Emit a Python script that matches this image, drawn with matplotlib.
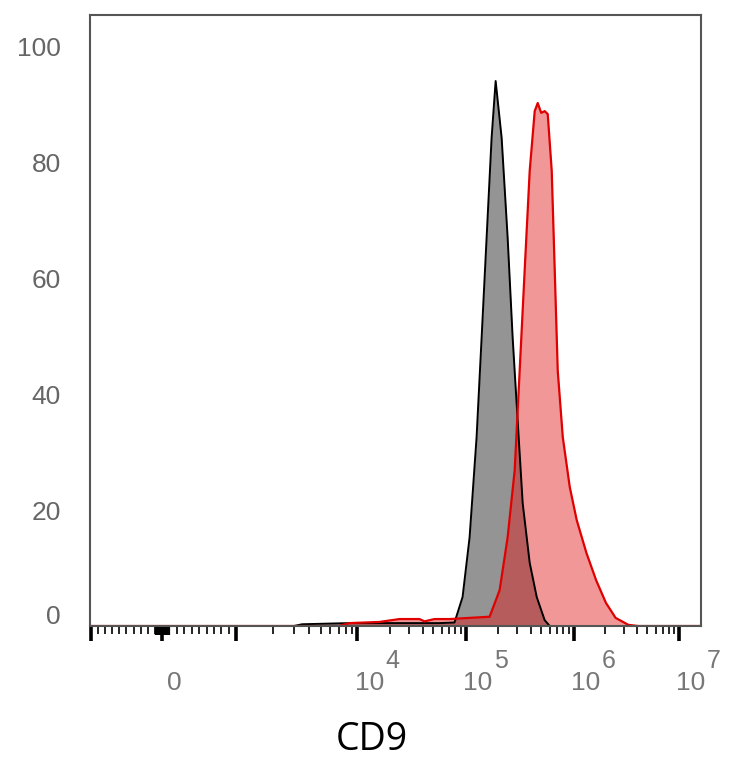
import numpy as np
import matplotlib
matplotlib.use("Agg")
import matplotlib.pyplot as plt
from matplotlib.transforms import offset_copy, ScaledTranslation

# isotype control (grey) - CD9 intensity vs % of max
ctrl_x = [-1030, 3000, 3500, 8600, 24500, 57400, 79000, 93800, 108900, 126400,
          140700, 156500, 174000, 189600, 215400, 244700, 272300, 302900,
          337100, 391500, 454500, 538500, 599400, 741700, 1.62e7]
ctrl_y = [0, 0, 0.3, 0.5, 0.5, 0.5, 0.6, 5.0, 15.3, 32.6, 49.8, 67.1, 84.3,
          94.1, 84.3, 67.1, 49.8, 35.5, 21.2, 10.9, 5.0, 1.0, 0, 0, 0]

# CD9 stained (red)
cd9_x = [-1030, 7000, 8600, 16000, 24500, 37500, 41700, 51600, 71100, 108900,
         166800, 206500, 244700, 284400, 316200, 351700, 391500, 435400,
         464200, 500000, 538500, 574500, 625400, 666800, 710800, 791500,
         918100, 1.066e6, 1.32e6, 1.632e6, 2.021e6, 2.5e6, 3.3e6, 4.1e6, 1.62e7]
cd9_y = [0, 0, 0.5, 0.7, 1.2, 1.2, 0.8, 1.2, 1.2, 1.4, 1.6, 6.2, 15.3, 26.9,
         44.1, 61.4, 78.6, 88.9, 90.3, 88.6, 88.9, 88.4, 78.6, 61.4, 44.1,
         32.6, 24.0, 18.3, 12.6, 7.9, 4.0, 1.4, 0.2, 0, 0]

y_ticks = [0, 20, 40, 60, 80, 100]
x_major = [-1000, 0, 1000, 1e4, 1e5, 1e6, 1e7]
x_labels = {0: ("0", ""), 1e4: ("10", "4"), 1e5: ("10", "5"), 1e6: ("10", "6"), 1e7: ("10", "7")}

# logicle-like display: linear in [-1000, 1000], log above
u_knots = [-3, -2, -1, 0, 1, 2, 3, 4, 5, 6, 7]
d_knots = [-213, -142, -71, 0, 74, 195, 303, 411, 516, 621, 726]


def to_u(x):
    x = np.asarray(x, dtype=float)
    ax_ = np.abs(x)
    big = np.sign(x) * (1 + np.log10(np.maximum(ax_, 1e-12) / 1000.0))
    return np.where(ax_ <= 1000, x / 1000.0, big)


def from_u(u):
    u = np.asarray(u, dtype=float)
    au = np.abs(u)
    big = np.sign(u) * 1000.0 * 10 ** (au - 1)
    return np.where(au <= 1, u * 1000.0, big)


def forward(x):
    return np.interp(to_u(x), u_knots, d_knots)


def inverse(d):
    return from_u(np.interp(d, d_knots, u_knots))


plt.rcParams['font.family'] = ['Liberation Sans', 'DejaVu Sans']

fig = plt.figure(figsize=(7.34, 7.68), dpi=100)
ax = fig.add_axes([90 / 734, 1 - 626 / 768, 611 / 734, 611 / 768])
ax.set_xscale('function', functions=(forward, inverse))

ax.fill_between(ctrl_x, ctrl_y, color='black', alpha=0.42, lw=0)
ax.plot(ctrl_x, ctrl_y, color='black', lw=1.4)
ax.fill_between(cd9_x, cd9_y, color='#e01818', alpha=0.45, lw=0)
ax.plot(cd9_x, cd9_y, color='#e00000', lw=1.6)

ax.set_xlim(-1030, 1.62e7)
ax.set_ylim(0.3, 105.5)

# x ticks
minor = []
for k in range(1, 10):
    minor += [k * 100, -k * 100]
for p in range(3, 7):
    minor += [m * 10 ** p for m in range(2, 10)]
ax.set_xticks(x_major)
ax.set_xticklabels([])
ax.set_xticks(minor, minor=True)
ax.tick_params(axis='x', which='major', direction='out', length=11, width=2.6, color='black')
ax.tick_params(axis='x', which='minor', direction='out', length=6, width=1.2, color='black')

# dense ticks around zero
near_zero = [k * 10 for k in range(-9, 10) if k != 0]
ax.vlines(near_zero, 0, -0.014, transform=ax.get_xaxis_transform(), clip_on=False,
          color='black', lw=1.6)

for v, (base, ex) in x_labels.items():
    tr = offset_copy(ax.get_xaxis_transform(), fig=fig, x=12, y=-57, units='dots')
    ax.text(v, 0, base, transform=tr, ha='center', va='center', fontsize=19, color='#777777')
    if ex:
        tr2 = offset_copy(ax.get_xaxis_transform(), fig=fig, x=28, y=-35, units='dots')
        ax.text(v, 0, ex, transform=tr2, ha='left', va='center', fontsize=18, color='#777777')

# y ticks
ax.set_yticks(y_ticks)
ax.set_yticklabels([str(t) for t in y_ticks])
ax.tick_params(axis='y', length=0, pad=21, labelsize=19, labelcolor='#666666')
lab0 = ax.get_yticklabels()[0]
lab0.set_transform(lab0.get_transform() + ScaledTranslation(0, 12 / 100, fig.dpi_scale_trans))

for s in ax.spines.values():
    s.set_color('#555555')
    s.set_linewidth(1.5)

fig.text(372 / 734, 1 - 740 / 768, "CD9", ha='center', va='center', fontsize=27,
         family=['Open Sans', 'DejaVu Sans'], color='black')

fig.savefig('out.png', dpi=100)
